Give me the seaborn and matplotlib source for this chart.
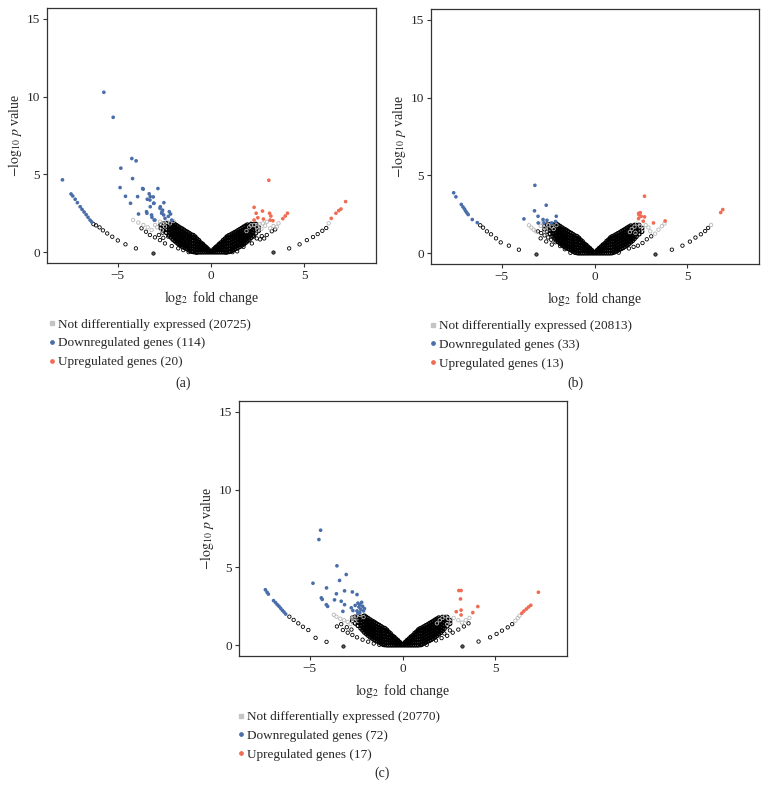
import matplotlib
matplotlib.use("Agg")
import matplotlib.pyplot as plt
from matplotlib.lines import Line2D
import pandas as pd
import seaborn as sns

sns.set_style("ticks")
plt.rcParams["font.family"] = ["Liberation Serif", "DejaVu Serif"]
plt.rcParams["mathtext.fontset"] = "stix"

BLUE = "#4a6ea9"
RED = "#ef6b53"
GREY = "#b8b8b8"

# === dense V-shaped core (same look in all three panels) ===
core_left = [
    (-0.05, 0.0), (-0.05, 0.06),
    (-0.15, 0.0), (-0.15, 0.1), (-0.15, 0.18),
    (-0.25, 0.0), (-0.25, 0.12), (-0.25, 0.24), (-0.25, 0.3),
    (-0.35, 0.0), (-0.35, 0.13), (-0.35, 0.27), (-0.35, 0.4),
    (-0.45, 0.0), (-0.45, 0.15), (-0.45, 0.3), (-0.45, 0.45), (-0.45, 0.52),
    (-0.55, 0.0), (-0.55, 0.15), (-0.55, 0.3), (-0.55, 0.45), (-0.55, 0.6),
    (-0.65, 0.0), (-0.65, 0.16), (-0.65, 0.32), (-0.65, 0.48), (-0.65, 0.64), (-0.65, 0.75),
    (-0.75, 0.0), (-0.75, 0.16), (-0.75, 0.32), (-0.75, 0.5), (-0.75, 0.68), (-0.75, 0.85),
    (-0.85, 0.0), (-0.85, 0.17), (-0.85, 0.35), (-0.85, 0.52), (-0.85, 0.7), (-0.85, 0.88), (-0.85, 0.98),
    (-0.95, 0.02), (-0.95, 0.2), (-0.95, 0.38), (-0.95, 0.56), (-0.95, 0.74), (-0.95, 0.92), (-0.95, 1.08),
    (-1.05, 0.04), (-1.05, 0.22), (-1.05, 0.4), (-1.05, 0.58), (-1.05, 0.76), (-1.05, 0.94), (-1.05, 1.12),
    (-1.15, 0.1), (-1.15, 0.28), (-1.15, 0.46), (-1.15, 0.64), (-1.15, 0.82), (-1.15, 1.0), (-1.15, 1.2),
    (-1.25, 0.18), (-1.25, 0.36), (-1.25, 0.54), (-1.25, 0.72), (-1.25, 0.9), (-1.25, 1.08), (-1.25, 1.28),
    (-1.35, 0.24), (-1.35, 0.42), (-1.35, 0.6), (-1.35, 0.78), (-1.35, 0.96), (-1.35, 1.14), (-1.35, 1.34),
    (-1.45, 0.3), (-1.45, 0.48), (-1.45, 0.66), (-1.45, 0.84), (-1.45, 1.02), (-1.45, 1.2), (-1.45, 1.42),
    (-1.55, 0.36), (-1.55, 0.55), (-1.55, 0.74), (-1.55, 0.92), (-1.55, 1.1), (-1.55, 1.3), (-1.55, 1.5),
    (-1.65, 0.44), (-1.65, 0.62), (-1.65, 0.82), (-1.65, 1.0), (-1.65, 1.18), (-1.65, 1.38), (-1.65, 1.56),
    (-1.75, 0.52), (-1.75, 0.7), (-1.75, 0.9), (-1.75, 1.08), (-1.75, 1.26), (-1.75, 1.45), (-1.75, 1.64),
    (-1.85, 0.62), (-1.85, 0.8), (-1.85, 0.98), (-1.85, 1.16), (-1.85, 1.34), (-1.85, 1.52), (-1.85, 1.72),
    (-1.95, 0.72), (-1.95, 0.9), (-1.95, 1.08), (-1.95, 1.26), (-1.95, 1.44), (-1.95, 1.62), (-1.95, 1.8),
    (-2.05, 0.82), (-2.05, 1.0), (-2.05, 1.18), (-2.05, 1.36), (-2.05, 1.54), (-2.05, 1.72), (-2.05, 1.88),
    (-2.15, 0.95), (-2.15, 1.12), (-2.15, 1.3), (-2.15, 1.48), (-2.15, 1.66), (-2.15, 1.84),
    (-2.25, 1.08), (-2.25, 1.26), (-2.25, 1.44), (-2.25, 1.62), (-2.25, 1.8),
    (-2.4, 1.25), (-2.4, 1.45), (-2.4, 1.65), (-2.4, 1.85),
    (-2.55, 1.4), (-2.55, 1.62), (-2.55, 1.82),
    (-2.7, 1.55), (-2.7, 1.75),
]
core_right = [
    (0.05, 0.0), (0.05, 0.07),
    (0.15, 0.0), (0.15, 0.11), (0.15, 0.19),
    (0.25, 0.0), (0.25, 0.13), (0.25, 0.25), (0.25, 0.31),
    (0.35, 0.0), (0.35, 0.14), (0.35, 0.28), (0.35, 0.41),
    (0.45, 0.0), (0.45, 0.16), (0.45, 0.31), (0.45, 0.46), (0.45, 0.53),
    (0.55, 0.0), (0.55, 0.16), (0.55, 0.31), (0.55, 0.46), (0.55, 0.62),
    (0.65, 0.0), (0.65, 0.17), (0.65, 0.33), (0.65, 0.5), (0.65, 0.66), (0.65, 0.76),
    (0.75, 0.0), (0.75, 0.17), (0.75, 0.34), (0.75, 0.52), (0.75, 0.7), (0.75, 0.86),
    (0.85, 0.0), (0.85, 0.18), (0.85, 0.36), (0.85, 0.54), (0.85, 0.72), (0.85, 0.9), (0.85, 0.99),
    (0.95, 0.02), (0.95, 0.2), (0.95, 0.39), (0.95, 0.57), (0.95, 0.75), (0.95, 0.93), (0.95, 1.07),
    (1.05, 0.05), (1.05, 0.23), (1.05, 0.41), (1.05, 0.59), (1.05, 0.77), (1.05, 0.95), (1.05, 1.12),
    (1.15, 0.11), (1.15, 0.29), (1.15, 0.47), (1.15, 0.65), (1.15, 0.83), (1.15, 1.01), (1.15, 1.19),
    (1.25, 0.17), (1.25, 0.35), (1.25, 0.53), (1.25, 0.71), (1.25, 0.89), (1.25, 1.07), (1.25, 1.26),
    (1.35, 0.23), (1.35, 0.41), (1.35, 0.59), (1.35, 0.77), (1.35, 0.95), (1.35, 1.13), (1.35, 1.32),
    (1.45, 0.29), (1.45, 0.47), (1.45, 0.65), (1.45, 0.83), (1.45, 1.01), (1.45, 1.19), (1.45, 1.4),
    (1.55, 0.35), (1.55, 0.54), (1.55, 0.73), (1.55, 0.91), (1.55, 1.09), (1.55, 1.28), (1.55, 1.47),
    (1.65, 0.43), (1.65, 0.61), (1.65, 0.8), (1.65, 0.98), (1.65, 1.16), (1.65, 1.35), (1.65, 1.54),
    (1.75, 0.51), (1.75, 0.69), (1.75, 0.88), (1.75, 1.06), (1.75, 1.24), (1.75, 1.43), (1.75, 1.62),
    (1.85, 0.6), (1.85, 0.78), (1.85, 0.96), (1.85, 1.14), (1.85, 1.32), (1.85, 1.5), (1.85, 1.69),
    (1.95, 0.7), (1.95, 0.88), (1.95, 1.06), (1.95, 1.24), (1.95, 1.42), (1.95, 1.6), (1.95, 1.76),
    (2.05, 0.8), (2.05, 0.98), (2.05, 1.16), (2.05, 1.34), (2.05, 1.52), (2.05, 1.7),
    (2.15, 0.93), (2.15, 1.1), (2.15, 1.28), (2.15, 1.46), (2.15, 1.64), (2.15, 1.8),
    (2.25, 1.06), (2.25, 1.24), (2.25, 1.42), (2.25, 1.6), (2.25, 1.78),
    (2.4, 1.22), (2.4, 1.42), (2.4, 1.62), (2.4, 1.8),
    (2.55, 1.38), (2.55, 1.6),
]

# === panel (a) ===
a_black = [
    (-6.31, 1.8), (-6.17, 1.72), (-5.98, 1.59), (-5.8, 1.4), (-5.57, 1.2), (-5.3, 0.99), (-5.0, 0.75),
    (-4.59, 0.5), (-4.03, 0.24),
    (4.19, 0.24), (4.75, 0.5), (5.14, 0.77), (5.47, 0.97), (5.72, 1.16), (5.97, 1.37), (6.18, 1.55),
    (-3.73, 1.53), (-3.49, 1.31), (-3.28, 1.1), (-3.01, 0.95), (-2.74, 0.77), (-2.47, 0.56),
    (-2.11, 0.39), (-1.76, 0.24), (-1.49, 0.13), (-2.8, 1.1), (-2.56, 0.92), (-2.3, 1.0), (-2.6, 1.25),
    (1.74, 0.34), (2.19, 0.56), (2.63, 0.82), (2.85, 0.88), (2.99, 1.1), (3.26, 1.34), (3.44, 1.46),
    (2.45, 0.88), (2.72, 1.03), (2.3, 1.0),
    (-0.95, 0.02), (-1.2, 0.0), (-0.77, -0.04), (0.8, -0.03), (1.15, 0.0), (1.4, 0.05),
]
a_zero = [(-3.12, -0.04), (3.32, -0.02)]
a_grey = [
    (-4.18, 2.06), (-3.9, 1.9), (-3.63, 1.74), (-3.4, 1.6), (-3.19, 1.42), (-2.74, 1.96), (-2.56, 1.81),
    (-2.47, 1.65), (-2.2, 1.85), (-2.02, 2.0), (-2.65, 1.4), (-2.9, 1.6), (-2.35, 1.95), (-3.0, 1.75),
    (1.9, 1.35), (2.05, 1.6), (2.15, 1.72), (2.3, 1.75), (2.45, 1.6), (2.6, 1.8), (2.78, 1.85),
    (2.9, 1.7), (3.17, 1.53), (3.35, 1.68), (3.62, 1.85), (3.53, 1.63), (2.5, 1.4), (2.7, 1.5),
    (3.0, 1.95), (6.31, 1.85),
]
a_down = [
    (-7.97, 4.65), (-7.51, 3.74), (-7.42, 3.61), (-7.29, 3.4), (-7.17, 3.18), (-7.02, 2.92),
    (-6.92, 2.75), (-6.81, 2.58), (-6.7, 2.41), (-6.6, 2.24), (-6.49, 2.06), (-6.4, 1.94),
    (-5.75, 10.28), (-5.25, 8.67), (-4.25, 6.02), (-4.02, 5.87), (-4.84, 5.4), (-4.21, 4.73),
    (-4.88, 4.15), (-3.67, 4.09), (-3.94, 3.57), (-4.59, 3.59), (-4.32, 3.14), (-3.89, 2.45),
    (-2.85, 4.09), (-3.26, 3.57), (-3.42, 3.4), (-3.08, 3.14), (-3.26, 2.92), (-2.72, 2.92),
    (-2.63, 2.6), (-2.54, 2.39), (-3.44, 2.5), (-3.17, 2.24), (-3.05, 2.06), (-3.64, 4.05),
    (-3.32, 3.75), (-3.1, 3.55), (-3.28, 3.35), (-3.06, 3.14), (-2.74, 2.82), (-2.6, 2.7),
    (-2.53, 3.18), (-2.24, 2.6), (-2.17, 2.45), (-2.29, 2.3), (-2.65, 2.5), (-3.46, 2.6),
    (-3.19, 2.39), (-3.01, 2.06), (-2.47, 2.17), (-2.11, 2.06),
]
a_up = [
    (3.1, 4.62), (2.31, 2.88), (2.76, 2.64), (3.14, 2.5), (3.21, 2.32), (2.42, 2.5), (2.51, 2.21),
    (2.31, 2.06), (2.81, 2.13), (3.17, 2.06), (3.32, 2.02), (4.1, 2.5), (3.98, 2.32), (3.85, 2.15),
    (6.45, 2.17), (6.7, 2.5), (6.85, 2.67), (6.97, 2.77), (7.22, 3.25),
]
a_counts = [20725, 114, 20]

# === panel (b) ===
b_black = [
    (-6.15, 1.79), (-6.0, 1.64), (-5.79, 1.4), (-5.57, 1.21), (-5.3, 0.95), (-5.05, 0.69),
    (-4.61, 0.48), (-4.07, 0.22),
    (4.16, 0.22), (4.73, 0.48), (5.13, 0.74), (5.43, 1.0), (5.72, 1.21), (5.95, 1.42), (6.11, 1.62),
    (-3.05, 1.4), (-2.87, 1.29), (-2.69, 1.14), (-2.5, 1.01), (-2.33, 0.86), (-2.1, 0.7),
    (-1.85, 0.45), (-1.6, 0.25), (-2.9, 0.95), (-2.6, 0.75), (-2.3, 0.55),
    (2.33, 0.48), (2.58, 0.65), (2.81, 0.89), (3.05, 1.08), (2.1, 0.4), (1.85, 0.3),
    (-0.9, 0.0), (-1.3, 0.02), (0.95, 0.0), (1.3, 0.03),
]
b_zero = [(-3.16, -0.08), (3.26, -0.08)]
b_grey = [
    (-3.53, 1.79), (-3.4, 1.64), (-3.28, 1.51), (-3.15, 1.4), (-2.9, 1.75), (-2.7, 1.6), (-2.5, 1.8),
    (-2.3, 1.7), (-2.6, 1.45), (-2.2, 1.55), (-2.05, 1.8), (-2.8, 1.95),
    (1.9, 1.35), (2.0, 1.55), (2.15, 1.7), (2.3, 1.9), (2.45, 1.75), (2.6, 1.55), (2.75, 1.8),
    (2.9, 1.65), (3.26, 1.25), (3.44, 1.51), (3.62, 1.73), (3.76, 1.9), (2.2, 1.3), (3.0, 1.4),
    (6.27, 1.81),
]
b_down = [
    (-7.58, 3.88), (-7.46, 3.62), (-7.17, 3.13), (-7.08, 2.97), (-7.0, 2.84), (-6.94, 2.71),
    (-6.87, 2.59), (-6.8, 2.48), (-6.58, 2.16), (-6.31, 1.96),
    (-3.21, 4.36), (-2.6, 3.08), (-3.23, 2.72), (-3.8, 2.2), (-3.04, 2.37), (-2.77, 2.16),
    (-2.56, 2.11), (-3.03, 1.94), (-2.72, 1.94), (-2.31, 1.94), (-2.1, 2.03), (-2.06, 2.37),
]
b_up = [
    (2.69, 3.66), (2.37, 2.55), (2.46, 2.6), (2.4, 2.45), (2.51, 2.37), (2.37, 2.22), (2.69, 2.33),
    (2.62, 2.05), (3.17, 1.94), (3.8, 2.07), (6.79, 2.61), (6.9, 2.8),
]
b_counts = [20813, 33, 13]

# === panel (c) ===
c_black = [
    (-6.09, 1.83), (-5.86, 1.62), (-5.61, 1.4), (-5.36, 1.18), (-5.07, 0.97), (-4.68, 0.47), (-4.09, 0.21),
    (4.09, 0.23), (4.71, 0.5), (5.06, 0.72), (5.35, 0.93), (5.66, 1.14), (5.9, 1.35),
    (-3.53, 1.2), (-3.21, 0.97), (-2.95, 0.8), (-2.7, 0.65), (-2.45, 0.5), (-2.15, 0.35),
    (-1.85, 0.22), (-1.55, 0.1), (-3.3, 1.35), (-3.0, 1.15), (-2.75, 1.0),
    (1.8, 0.3), (2.1, 0.45), (2.4, 0.6), (2.7, 0.8), (3.0, 1.0), (3.3, 1.2), (3.55, 1.4),
    (2.55, 0.95), (2.25, 0.75),
    (-1.0, 0.0), (-1.25, 0.02), (1.0, 0.0), (1.3, 0.02),
]
c_zero = [(-3.19, -0.07), (3.2, -0.05)]
c_grey = [
    (-3.56, 1.83), (-3.35, 1.7), (-3.15, 1.6), (-2.95, 1.5), (-2.7, 1.75), (-2.5, 1.85), (-2.3, 1.95),
    (-2.55, 1.55), (-2.8, 1.35), (-2.1, 1.8), (-3.7, 1.95),
    (1.85, 1.4), (2.0, 1.6), (2.15, 1.75), (2.3, 1.85), (2.45, 1.7), (2.6, 1.5), (2.75, 1.75),
    (2.4, 1.35), (3.0, 1.6), (3.2, 1.45), (3.4, 1.6), (3.6, 1.75), (6.07, 1.57), (6.2, 1.74), (6.29, 1.89),
]
c_down = [
    (-7.38, 3.56), (-7.29, 3.4), (-7.22, 3.28), (-6.94, 2.86), (-6.83, 2.73), (-6.74, 2.6),
    (-6.65, 2.5), (-6.56, 2.37), (-6.47, 2.24), (-6.38, 2.13), (-6.29, 2.0),
    (-4.41, 7.39), (-4.5, 6.79), (-3.53, 5.1), (-3.03, 4.54), (-3.39, 4.16), (-4.82, 3.98),
    (-4.09, 3.68), (-3.12, 3.49), (-2.7, 3.42), (-3.56, 3.3), (-4.37, 3.04), (-4.32, 2.94),
    (-2.45, 3.25), (-3.3, 2.82), (-3.66, 2.91), (-3.12, 2.6), (-4.1, 2.6), (-4.03, 2.49),
    (-3.21, 2.17), (-2.67, 2.22), (-2.76, 2.4), (-2.4, 2.7), (-2.3, 2.6), (-2.2, 2.75),
    (-2.35, 2.45), (-2.25, 2.3), (-2.15, 2.5), (-2.45, 2.2), (-2.1, 2.2), (-2.3, 2.1),
    (-2.05, 2.35), (-2.55, 2.55), (-2.4, 2.05),
]
c_up = [
    (3.03, 3.51), (3.15, 3.51), (3.12, 2.97), (2.89, 2.15), (3.15, 2.25), (3.15, 1.94), (3.78, 2.09),
    (4.05, 2.48), (6.42, 2.05), (6.53, 2.19), (6.66, 2.32), (6.78, 2.45), (6.9, 2.56), (7.31, 3.4),
]
c_counts = [20770, 72, 17]

labels = ["Not differentially expressed", "Downregulated genes", "Upregulated genes"]


def to_df(pts):
    return pd.DataFrame(pts, columns=["lfc", "nlp"])


def hollow(ax, pts, color, s=6, lw=0.6):
    sns.scatterplot(data=to_df(pts), x="lfc", y="nlp", ax=ax, marker="o", s=s,
                    facecolors="none", edgecolor=color, linewidth=lw, legend=False)


def filled(ax, pts, color, s=7, ec="none"):
    sns.scatterplot(data=to_df(pts), x="lfc", y="nlp", ax=ax, marker="o", s=s,
                    color=color, edgecolor=ec, linewidth=0.5, legend=False)


def volcano(rect, black, zero, grey, down, up, counts, leg_xy, tag, tag_xy):
    ax = fig.add_axes(rect)
    hollow(ax, core_left + core_right, "black", s=7, lw=0.9)
    hollow(ax, black, "black")
    hollow(ax, grey, GREY)
    filled(ax, zero, "#555555", s=6, ec="black")
    filled(ax, down, BLUE)
    filled(ax, up, RED)

    ax.set_xlim(-8.8, 8.85)
    ax.set_ylim(-0.7, 15.7)
    ax.set_xticks([-5, 0, 5])
    ax.set_yticks([0, 5, 10, 15])
    ax.tick_params(direction="out", length=3, width=0.8, labelsize=9.5, pad=2, color="#333333")
    for sp in ax.spines.values():
        sp.set_visible(True)
        sp.set_color("#333333")
        sp.set_linewidth(0.9)
    ax.set_xlabel(r"$\log_2$ fold change", fontsize=10, labelpad=5)
    ax.set_ylabel(r"$-\log_{10}\,p$ value", fontsize=10, labelpad=2)

    handles = [
        Line2D([], [], marker="s", ls="none", ms=2.4, color="#c4c4c4"),
        Line2D([], [], marker="o", ls="none", ms=2.4, color=BLUE),
        Line2D([], [], marker="o", ls="none", ms=2.4, color=RED),
    ]
    texts = [f"{lab} ({n})" for lab, n in zip(labels, counts)]
    fig.legend(handles, texts, loc="upper left", bbox_to_anchor=leg_xy,
               bbox_transform=fig.transFigure, frameon=False, fontsize=9.5,
               handlelength=0.6, handletextpad=0.15, labelspacing=0.5,
               borderpad=0, borderaxespad=0)
    fig.text(tag_xy[0], tag_xy[1], tag, ha="center", va="center", fontsize=10)
    return ax


fig = plt.figure(figsize=(7.68, 8.0), dpi=100)

volcano([0.0612, 0.67125, 0.4284, 0.31875], a_black, a_zero, a_grey, a_down, a_up, a_counts,
        (0.0625, 0.602), "(a)", (183 / 768, 1 - 383 / 800))
volcano([0.5612, 0.67, 0.4271, 0.31875], b_black, b_zero, b_grey, b_down, b_up, b_counts,
        (0.5586, 0.600), "(b)", (575 / 768, 1 - 383 / 800))
volcano([0.3112, 0.18, 0.4271, 0.31875], c_black, c_zero, c_grey, c_down, c_up, c_counts,
        (0.3086, 1 - 711 / 800), "(c)", (382 / 768, 1 - 773 / 800))

fig.savefig("out.png", dpi=100)
